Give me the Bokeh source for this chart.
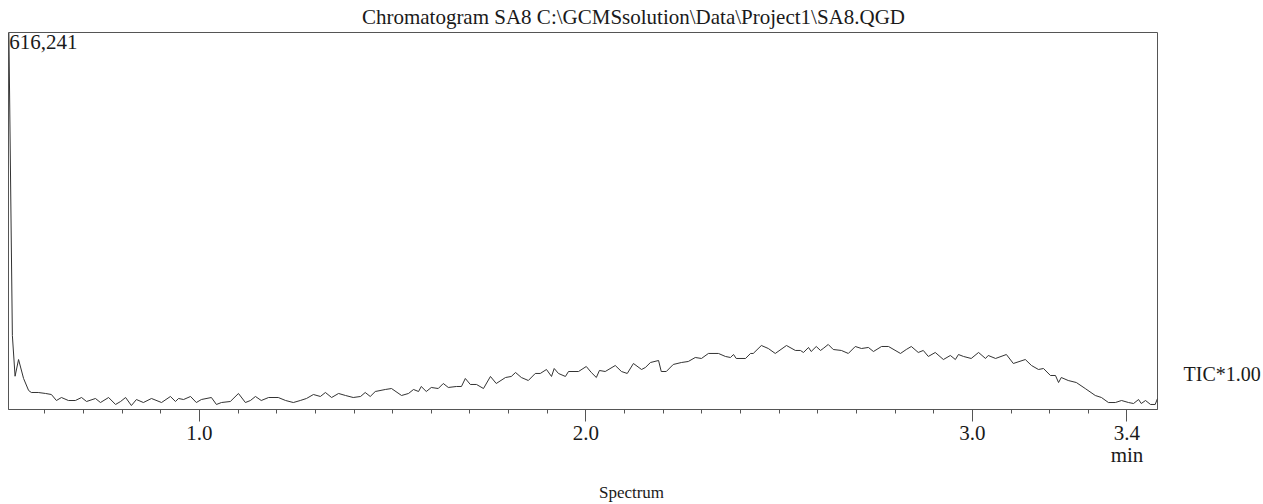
from bokeh.plotting import figure
from bokeh.models import (Range1d, FixedTicker, PrintfTickFormatter, LinearAxis,
                          Label)
from bokeh.embed import file_html
from bokeh.resources import INLINE

# retention time (min)
time_min = [
    0.507, 0.516, 0.523, 0.532, 0.545, 0.558, 0.565, 0.583, 0.602, 0.617,
    0.630, 0.643, 0.661, 0.679, 0.695, 0.708, 0.731, 0.744, 0.765, 0.783,
    0.796, 0.809, 0.824, 0.837, 0.855, 0.876, 0.902, 0.925, 0.938, 0.946,
    0.959, 0.977, 0.992, 1.005, 1.031, 1.044, 1.057, 1.080, 1.101, 1.119,
    1.132, 1.145, 1.160, 1.179, 1.204, 1.223, 1.243, 1.261, 1.277, 1.295,
    1.313, 1.326, 1.342, 1.360, 1.378, 1.398, 1.417, 1.429, 1.442, 1.455,
    1.481, 1.497, 1.523, 1.541, 1.554, 1.567, 1.574, 1.587, 1.600, 1.618,
    1.631, 1.644, 1.665, 1.678, 1.688, 1.701, 1.717, 1.735, 1.753, 1.768,
    1.792, 1.807, 1.818, 1.833, 1.851, 1.869, 1.882, 1.898, 1.911, 1.918,
    1.929, 1.947, 1.955, 1.981, 2.001, 2.014, 2.027, 2.035, 2.050, 2.076,
    2.092, 2.107, 2.123, 2.144, 2.154, 2.167, 2.188, 2.195, 2.208, 2.226,
    2.247, 2.265, 2.283, 2.299, 2.317, 2.343, 2.361, 2.374, 2.382, 2.389,
    2.413, 2.426, 2.433, 2.454, 2.472, 2.490, 2.519, 2.542, 2.555, 2.563,
    2.576, 2.583, 2.596, 2.607, 2.614, 2.627, 2.640, 2.661, 2.679, 2.697,
    2.713, 2.731, 2.744, 2.765, 2.783, 2.814, 2.829, 2.842, 2.860, 2.873,
    2.886, 2.904, 2.925, 2.943, 2.956, 2.964, 2.977, 2.997, 3.016, 3.034,
    3.041, 3.060, 3.088, 3.106, 3.137, 3.153, 3.171, 3.184, 3.202, 3.215,
    3.223, 3.230, 3.248, 3.269, 3.292, 3.318, 3.334, 3.352, 3.370, 3.386,
    3.404, 3.417, 3.430, 3.437, 3.448, 3.461, 3.473, 3.479,
]

# TIC intensity (counts)
intensity = [
    616241, 121000, 54400, 81700, 50700, 31100, 27800, 27800, 26200, 24500,
    14700, 19600, 14700, 14700, 19600, 13100, 18000, 11400, 19600, 8200,
    13100, 19600, 6500, 16300, 11400, 18000, 11400, 21300, 13100, 18000,
    16300, 21300, 11400, 16300, 19600, 8200, 11400, 13100, 26200, 11400,
    14700, 21300, 14700, 19600, 19600, 14700, 11400, 14700, 18000, 24500,
    21300, 27800, 19600, 26200, 22900, 19600, 21300, 27800, 21300, 29400,
    32700, 34300, 22900, 26200, 32700, 29400, 37600, 29400, 36000, 34300,
    42500, 36000, 37600, 37600, 50700, 40900, 40900, 34300, 54000, 42500,
    52300, 54000, 60500, 52300, 47400, 58900, 58900, 65400, 54000, 67000,
    58900, 54000, 62100, 62100, 70300, 60500, 52300, 63800, 62100, 71900,
    62100, 58900, 75200, 65400, 68700, 76800, 80100, 62100, 62100, 73600,
    76800, 78500, 85000, 83400, 91600, 91600, 86700, 85000, 89900, 83400,
    83400, 91600, 91600, 104600, 99700, 91600, 104600, 96500, 96500, 93200,
    101400, 94800, 103000, 96500, 99700, 106300, 98100, 96500, 91600, 103000,
    99700, 101400, 94800, 103000, 103000, 91600, 98100, 103000, 93200, 96500,
    86700, 93200, 81700, 88300, 81700, 89900, 86700, 83400, 93200, 83400,
    88300, 83400, 89900, 75200, 81700, 71900, 65400, 67000, 55600, 55600,
    44100, 52300, 47400, 44100, 34300, 22900, 19600, 11400, 11400, 14700,
    11400, 9800, 16300, 9800, 14700, 8200, 8200, 18000,
]
assert len(time_min) == len(intensity)

major_ticks = [1.0, 2.0, 3.0, 3.4]
minor_ticks = [0.6, 0.7, 0.8, 0.9, 1.0, 1.1, 1.2, 1.3, 1.4, 1.5, 1.6, 1.7, 1.8,
               1.9, 2.0, 2.1, 2.2, 2.3, 2.4, 2.5, 2.6, 2.7, 2.8, 2.9, 3.0, 3.1,
               3.2, 3.3, 3.4]
unit_tick = [3.4]
unit_label = "min"
y_max = 616241
y_max_label = "616,241"
tic_level = [58800]
tic_label = "TIC*1.00"
title_pos = [2.123]
title_text = "Chromatogram SA8 C:\\GCMSsolution\\Data\\Project1\\SA8.QGD"
footer_pos = [2.118]
footer_text = "Spectrum"

FONT = "Liberation Serif"
INK = "#1a1a1a"
GREY = "#555555"

p = figure(width=1263, height=504, output_backend="svg", toolbar_location=None,
           x_range=Range1d(0.506, 3.479), y_range=Range1d(0, y_max),
           min_border_left=8, min_border_right=106, min_border_top=32,
           min_border_bottom=95, title=None)
p.background_fill_color = "white"
p.border_fill_color = "white"
p.outline_line_color = GREY
p.outline_line_width = 1
p.grid.visible = False
p.yaxis.visible = False

ax = p.xaxis[0]
ax.ticker = FixedTicker(ticks=major_ticks, minor_ticks=minor_ticks)
ax.formatter = PrintfTickFormatter(format="%.1f")
ax.axis_line_color = GREY
ax.major_tick_line_color = GREY
ax.minor_tick_line_color = GREY
ax.major_tick_in = 0
ax.major_tick_out = 12
ax.minor_tick_in = 0
ax.minor_tick_out = 4
ax.major_label_standoff = 4
ax.major_label_text_font = FONT
ax.major_label_text_font_size = "21px"
ax.major_label_text_color = INK


def text_axis(ticks, text, size, standoff):
    return LinearAxis(ticker=FixedTicker(ticks=ticks, minor_ticks=[]),
                      major_label_overrides={ticks[0]: text},
                      axis_line_color=None, major_tick_line_color=None,
                      minor_tick_line_color=None, major_tick_out=0,
                      major_tick_in=0, major_label_standoff=standoff,
                      major_label_orientation="horizontal",
                      major_label_text_font=FONT, major_label_text_font_size=size,
                      major_label_text_color=INK)


# title row above the frame
p.add_layout(text_axis(title_pos, title_text, "21px", 4), "above")
# unit label row ("min") under the 3.4 label
p.add_layout(text_axis(unit_tick, unit_label, "21px", 0), "below")
# footer row
p.add_layout(text_axis(footer_pos, footer_text, "17px", 13), "below")
# trace label on the right
p.add_layout(text_axis(tic_level, tic_label, "20px", 26), "right")

p.line(time_min, intensity, line_color="#333333", line_width=1)

p.add_layout(Label(x=0.508, y=y_max, y_offset=-2, text=y_max_label, text_font=FONT,
                   text_font_size="21px", text_color=INK, text_align="left",
                   text_baseline="top"))

open("out.html", "w").write(file_html(p, INLINE))
